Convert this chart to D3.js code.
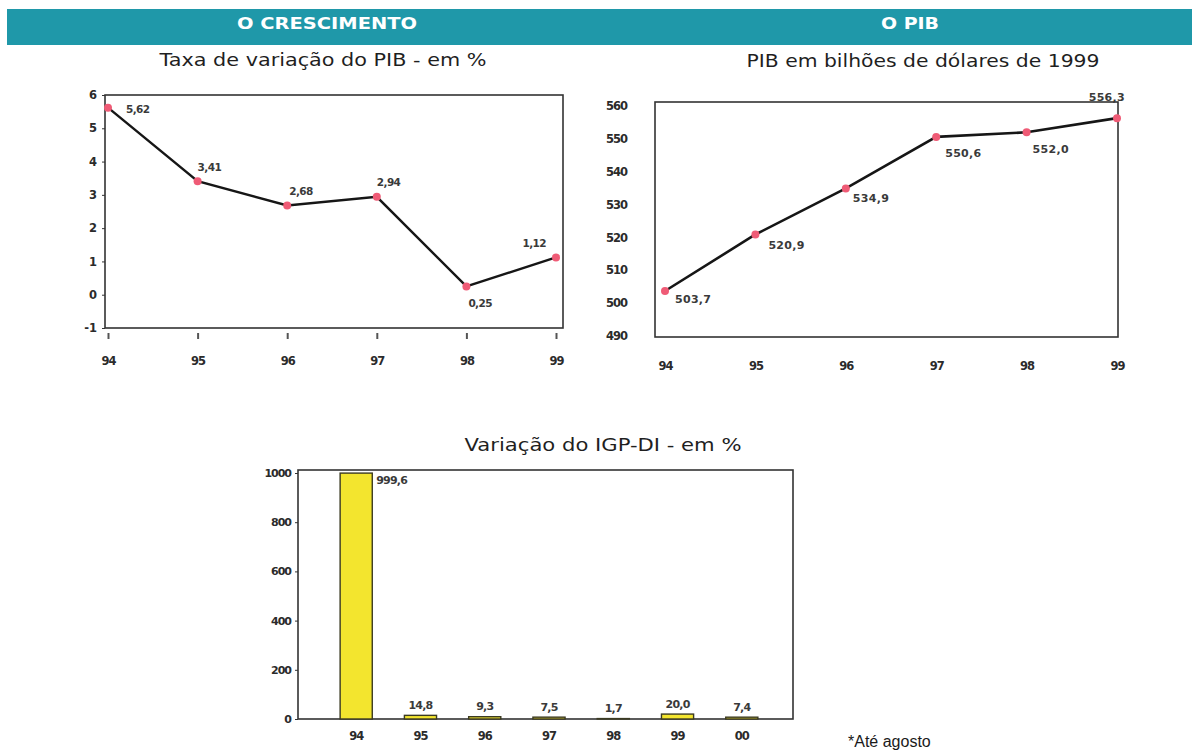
<!DOCTYPE html>
<html>
<head>
<meta charset="utf-8">
<script src="https://cdn.jsdelivr.net/npm/d3@7"></script>
<style>
  html, body { margin: 0; padding: 0; background: #ffffff; }
  svg { display: block; }
  .tick-label { font-family: "DejaVu Sans", Verdana, sans-serif; font-weight: bold; fill: #2b2b2b; }
  .value-label { font-family: "DejaVu Sans", Verdana, sans-serif; font-weight: bold; fill: #3a3a3a; }
  .subtitle { font-family: "DejaVu Sans", Verdana, sans-serif; fill: #1f1f1f; }
  .header { font-family: "DejaVu Sans", Verdana, sans-serif; font-weight: bold; fill: #ffffff; }
</style>
</head>
<body>
<script>
// Taxa de variação do PIB (%)
const growthYears = ["94", "95", "96", "97", "98", "99"];
const growthValues = [5.62, 3.41, 2.68, 2.94, 0.25, 1.12];
const growthLabels = ["5,62", "3,41", "2,68", "2,94", "0,25", "1,12"];
const growthTicks = [-1, 0, 1, 2, 3, 4, 5, 6];

// PIB em bilhões de dólares de 1999
const gdpYears = ["94", "95", "96", "97", "98", "99"];
const gdpValues = [503.7, 520.9, 534.9, 550.6, 552.0, 556.3];
const gdpLabels = ["503,7", "520,9", "534,9", "550,6", "552,0", "556,3"];
const gdpTicks = [490, 500, 510, 520, 530, 540, 550, 560];

// Variação do IGP-DI (%)
const igpYears = ["94", "95", "96", "97", "98", "99", "00"];
const igpValues = [999.6, 14.8, 9.3, 7.5, 1.7, 20.0, 7.4];
const igpLabels = ["999,6", "14,8", "9,3", "7,5", "1,7", "20,0", "7,4"];
const igpTicks = [0, 200, 400, 600, 800, 1000];

const W = 1192, H = 751;
const svg = d3.select("body").append("svg").attr("width", W).attr("height", H);

const teal = "#1f98a9";
const frameColor = "#333333";
const lineColor = "#161616";
const dotColor = "#ef5b76";
const barColor = "#f3e52e";
const plainInt = d => String(d); // hyphen minus, no typographic minus

// Section header band
svg.append("rect").attr("x", 7).attr("y", 9).attr("width", W - 7).attr("height", 36).attr("fill", teal);
function header(x, txt, len) {
  svg.append("text").attr("class", "header").attr("x", x).attr("y", 23)
    .attr("text-anchor", "middle").attr("dominant-baseline", "central")
    .attr("font-size", 16.5).attr("textLength", len).attr("lengthAdjust", "spacingAndGlyphs")
    .text(txt);
}
header(327, "O CRESCIMENTO", 180);
header(910, "O PIB", 58);

function subtitle(x, y, txt, len) {
  svg.append("text").attr("class", "subtitle").attr("x", x).attr("y", y)
    .attr("text-anchor", "middle").attr("dominant-baseline", "central")
    .attr("font-size", 17).attr("textLength", len).attr("lengthAdjust", "spacingAndGlyphs")
    .text(txt);
}
subtitle(323, 60, "Taxa de variação do PIB - em %", 327);
subtitle(923, 61, "PIB em bilhões de dólares de 1999", 353);
subtitle(603, 445, "Variação do IGP-DI - em %", 277);

svg.append("text").attr("x", 848).attr("y", 741)
  .attr("dominant-baseline", "central")
  .attr("font-family", "'Liberation Sans', Arial, sans-serif")
  .attr("font-size", 16).attr("fill", "#1a1a1a").text("*Até agosto");

function frame(x0, y0, x1, y1) {
  svg.append("rect").attr("x", x0).attr("y", y0).attr("width", x1 - x0).attr("height", y1 - y0)
    .attr("fill", "none").attr("stroke", frameColor).attr("stroke-width", 1.6);
}

// ---------- Line chart: growth rate ----------
{
  const x = d3.scalePoint().domain(growthYears).range([108, 556]);
  const y = d3.scaleLinear().domain([-1, 6]).range([328, 95]);
  frame(105, 95, 563, 328);

  const yAxis = svg.append("g").attr("transform", "translate(105,0)")
    .call(d3.axisLeft(y).tickValues(growthTicks).tickSize(3).tickPadding(5).tickFormat(plainInt));
  yAxis.select(".domain").remove();
  yAxis.selectAll("line").attr("stroke", frameColor);
  yAxis.selectAll("text").attr("class", "tick-label").attr("font-size", 11.5).attr("fill", null);

  const xAxis = svg.append("g").attr("transform", "translate(0,333)")
    .call(d3.axisBottom(x).tickSize(6).tickPadding(18));
  xAxis.select(".domain").remove();
  xAxis.selectAll("line").attr("stroke", "#555").attr("stroke-width", 2);
  xAxis.selectAll("text").attr("class", "tick-label").attr("font-size", 11.5).attr("fill", null)
    .attr("letter-spacing", -1);

  const line = d3.line().x((d, i) => x(growthYears[i])).y(d => y(d));
  svg.append("path").datum(growthValues).attr("d", line)
    .attr("fill", "none").attr("stroke", lineColor).attr("stroke-width", 2.4);
  svg.selectAll(".g-dot").data(growthValues).join("circle").attr("class", "g-dot")
    .attr("cx", (d, i) => x(growthYears[i])).attr("cy", d => y(d)).attr("r", 4).attr("fill", dotColor);

  const offs = [[18, 1, "start"], [0, -14, "start"], [2, -15, "start"], [0, -15, "start"], [2, 17, "start"], [-10, -14, "end"]];
  svg.selectAll(".g-lab").data(growthValues).join("text").attr("class", "value-label g-lab")
    .attr("x", (d, i) => x(growthYears[i]) + offs[i][0])
    .attr("y", (d, i) => y(d) + offs[i][1])
    .attr("text-anchor", (d, i) => offs[i][2])
    .attr("dominant-baseline", "central").attr("font-size", 10.5).attr("letter-spacing", -0.6)
    .text((d, i) => growthLabels[i]);
}

// ---------- Line chart: GDP level ----------
{
  const x = d3.scalePoint().domain(gdpYears).range([665, 1117]);
  const y = d3.scaleLinear().domain([490, 560]).range([336, 106]);
  frame(655, 102, 1118, 337);

  const yAxis = svg.append("g").attr("transform", "translate(655,0)")
    .call(d3.axisLeft(y).tickValues(gdpTicks).tickSize(0).tickPadding(28).tickFormat(plainInt));
  yAxis.select(".domain").remove();
  yAxis.selectAll("text").attr("class", "tick-label").attr("font-size", 11.5).attr("fill", null)
    .attr("letter-spacing", -1);

  const xAxis = svg.append("g").attr("transform", "translate(0,337)")
    .call(d3.axisBottom(x).tickSize(0).tickPadding(25));
  xAxis.select(".domain").remove();
  xAxis.selectAll("text").attr("class", "tick-label").attr("font-size", 11.5).attr("fill", null)
    .attr("letter-spacing", -1);

  const line = d3.line().x((d, i) => x(gdpYears[i])).y(d => y(d));
  svg.append("path").datum(gdpValues).attr("d", line)
    .attr("fill", "none").attr("stroke", lineColor).attr("stroke-width", 2.6);
  svg.selectAll(".p-dot").data(gdpValues).join("circle").attr("class", "p-dot")
    .attr("cx", (d, i) => x(gdpYears[i])).attr("cy", d => y(d)).attr("r", 4).attr("fill", dotColor);

  const offs = [[10, 9, "start"], [13, 11, "start"], [7, 10, "start"], [9, 17, "start"], [6, 17, "start"], [8, -21, "end"]];
  svg.selectAll(".p-lab").data(gdpValues).join("text").attr("class", "value-label p-lab")
    .attr("x", (d, i) => x(gdpYears[i]) + offs[i][0])
    .attr("y", (d, i) => y(d) + offs[i][1])
    .attr("text-anchor", (d, i) => offs[i][2])
    .attr("dominant-baseline", "central").attr("font-size", 11).attr("letter-spacing", 0.3)
    .text((d, i) => gdpLabels[i]);
}

// ---------- Bar chart: IGP-DI ----------
{
  const x = d3.scaleBand().domain(igpYears).range([308, 790]).padding(0.5);
  const y = d3.scaleLinear().domain([0, 1000]).range([719, 473]);
  frame(298, 470, 793, 719);

  const yAxis = svg.append("g").attr("transform", "translate(298,0)")
    .call(d3.axisLeft(y).tickValues(igpTicks).tickSize(3).tickPadding(4).tickFormat(plainInt));
  yAxis.select(".domain").remove();
  yAxis.selectAll("line").attr("stroke", frameColor);
  yAxis.selectAll("text").attr("class", "tick-label").attr("font-size", 11).attr("fill", null)
    .attr("letter-spacing", -1);

  const xAxis = svg.append("g").attr("transform", "translate(0,719)")
    .call(d3.axisBottom(x).tickSize(0).tickPadding(13));
  xAxis.select(".domain").remove();
  xAxis.selectAll("text").attr("class", "tick-label").attr("font-size", 11.5).attr("fill", null)
    .attr("letter-spacing", -1);

  svg.selectAll(".bar").data(igpValues).join("rect").attr("class", "bar")
    .attr("x", (d, i) => x(igpYears[i]))
    .attr("width", x.bandwidth())
    .attr("y", d => y(d))
    .attr("height", d => y(0) - y(d))
    .attr("fill", barColor).attr("stroke", "#3b3a22").attr("stroke-width", 1.4);

  svg.selectAll(".b-lab").data(igpValues).join("text").attr("class", "value-label b-lab")
    .attr("x", (d, i) => i === 0 ? x(igpYears[i]) + x.bandwidth() + 4 : x(igpYears[i]) + x.bandwidth() / 2)
    .attr("y", (d, i) => i === 0 ? y(d) + 7 : y(d) - 10)
    .attr("text-anchor", (d, i) => i === 0 ? "start" : "middle")
    .attr("dominant-baseline", "central").attr("font-size", 11).attr("letter-spacing", -0.8)
    .text((d, i) => igpLabels[i]);
}
</script>
</body>
</html>
